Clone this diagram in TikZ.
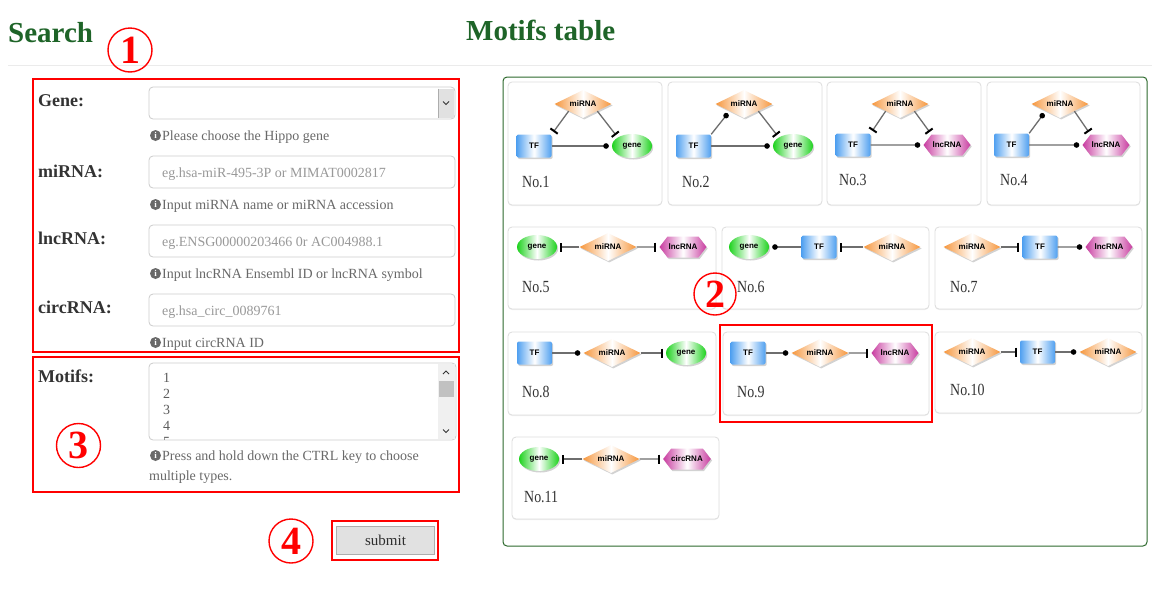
\documentclass[tikz,border=0pt]{standalone}
\usepackage{fontspec}
\usepackage{graphicx}
\setmainfont{Liberation Serif}
\newfontfamily\iconfont{Liberation Sans}
\usetikzlibrary{shapes.geometric,shapes.symbols,arrows.meta,shadows}
\definecolor{headc}{RGB}{30,100,40}
\definecolor{panelc}{RGB}{45,105,45}
\definecolor{txtc}{RGB}{51,51,51}
\definecolor{hintc}{RGB}{105,105,105}
\definecolor{phc}{RGB}{153,153,153}
\definecolor{fieldc}{RGB}{204,204,204}
\definecolor{cardc}{RGB}{221,221,221}
\definecolor{rulec}{RGB}{235,235,235}
\definecolor{edgec}{RGB}{110,110,110}
\definecolor{orgc}{RGB}{246,150,60}
\definecolor{bluec}{RGB}{80,160,240}
\definecolor{greenc}{RGB}{30,210,30}
\definecolor{magc}{RGB}{200,60,160}
\definecolor{btnc}{RGB}{225,225,225}
\definecolor{btnb}{RGB}{173,173,173}
\definecolor{trackc}{RGB}{240,240,240}
\definecolor{thumbc}{RGB}{193,193,193}
\newcommand\nolab[1]{\scalebox{0.82}[1]{#1}}
\tikzset{
  heading/.style={anchor=base west, inner sep=0, text=headc, font=\bfseries\fontsize{29}{29}\selectfont},
  lbl/.style={anchor=base west, inner sep=0, text=txtc, font=\bfseries\fontsize{18}{18}\selectfont},
  hint/.style={anchor=base west, inner sep=0, text=hintc, font=\fontsize{14}{14}\selectfont},
  ph/.style={anchor=base west, inner sep=0, text=phc, font=\fontsize{14}{14}\selectfont},
  item/.style={anchor=base west, inner sep=0, text=txtc!80, font=\fontsize{14}{14}\selectfont},
  info/.style={circle, fill=hintc, text=white, inner sep=0, minimum size=11pt, font=\bfseries\fontsize{9}{9}\selectfont},
  field/.style={draw=fieldc, line width=0.8pt, rounded corners=4pt, fill=white},
  redbox/.style={draw=red, line width=1.6pt},
  card/.style={draw=cardc, line width=0.8pt, rounded corners=4pt, fill=white,
    drop shadow={shadow xshift=0pt, shadow yshift=-1pt, opacity=0.12}},
  numlbl/.style={anchor=base west, inner sep=0, text=txtc, font=\fontsize{17}{17}\selectfont},
  circnum/.style={circle, draw=red, line width=1.4pt, minimum size=44pt, inner sep=0,
    text=red, font=\bfseries\fontsize{40}{40}\selectfont},
  icon/.style={inner sep=0, font=\iconfont\bfseries\fontsize{8}{8}\selectfont,
    drop shadow={shadow xshift=1.2pt, shadow yshift=-1.5pt, opacity=0.35}},
  mir/.style={icon, diamond, minimum width=57pt, minimum height=28pt, aspect=2,
    left color=orgc, right color=orgc, middle color=white},
  tfbox/.style={icon, rectangle, rounded corners=2pt, minimum width=35pt, minimum height=23pt,
    left color=bluec, right color=bluec, middle color=white},
  genee/.style={icon, ellipse, minimum width=40pt, minimum height=24pt,
    left color=greenc, right color=greenc, middle color=white},
  lnc/.style={icon, signal, signal to=west and east, signal pointer angle=105,
    minimum width=47pt, minimum height=21pt,
    left color=magc, right color=magc, middle color=white},
  inh/.style={draw=edgec, line width=1.3pt, shorten >=3pt,
    -{Bar[width=9pt, line width=2pt, color=black]}},
  act/.style={draw=edgec, line width=1.3pt, shorten >=3pt,
    -{Circle[length=5.5pt, color=black]}},
  chev/.style={draw=txtc, line width=0.8pt}
}
\begin{document}
\begin{tikzpicture}[x=1pt,y=-1pt]
\useasboundingbox (0,0) rectangle (1165,611);
\fill[white] (0,0) rectangle (1165,611);

% headings and rule
\draw[rulec, line width=1pt] (8,65) -- (1152,65);
\node[heading] (hsearch) at (8,42) {Search};
\node[heading] (hmotifs) at (466,40) {Motifs table};

% ---------------- search form ----------------
\draw[redbox] (33,79) rectangle (459,352);
\draw[redbox] (33,357) rectangle (459,492);

% Gene
\node[lbl] (lgene) at (38,106) {Gene:};
\draw[field] (149,87) rectangle (455,119);
\fill[btnc] (438,88.5) rectangle (454,117.5);
\draw[btnb, line width=0.6pt] (438,88.5) -- (438,117.5);
\draw[chev] (443,101.5) -- (446,104.5) -- (449,101.5);
\node[info] (igene) at (155.5,135.5) {i};
\node[hint] (hgene) at (162,140) {Please choose the Hippo gene};

% miRNA
\node[lbl] (lmir) at (38,177) {miRNA:};
\draw[field] (149,156) rectangle (455,188);
\node[ph] (pmir) at (162,177) {eg.hsa-miR-495-3P or MIMAT0002817};
\node[info] (imir) at (155.5,204.5) {i};
\node[hint] (hmir) at (162,209) {Input miRNA name or miRNA accession};

% lncRNA
\node[lbl] (llnc) at (38,244) {lncRNA:};
\draw[field] (149,225) rectangle (455,257);
\node[ph] (plnc) at (162,246) {eg.ENSG00000203466 0r AC004988.1};
\node[info] (ilnc) at (155.5,273.5) {i};
\node[hint] (hlnc) at (162,278) {Input lncRNA Ensembl ID or lncRNA symbol};

% circRNA
\node[lbl] (lcirc) at (38,313) {circRNA:};
\draw[field] (149,294) rectangle (455,326);
\node[ph] (pcirc) at (162,315) {eg.hsa\_circ\_0089761};
\node[info] (icirc) at (155.5,342.5) {i};
\node[hint] (hcirc) at (162,347) {Input circRNA ID};

% Motifs
\node[lbl] (lmot) at (38,382) {Motifs:};
\draw[field] (149,363) rectangle (456,440);
\begin{scope}
  \clip (150,364) rectangle (438,439);
  \node[item] (m1) at (163,382) {1};
  \node[item] (m2) at (163,398) {2};
  \node[item] (m3) at (163,414) {3};
  \node[item] (m4) at (163,430) {4};
  \node[item] (m5) at (163,446.5) {5};
\end{scope}
\fill[trackc] (438,364) rectangle (455,439);
\fill[thumbc] (439,381) rectangle (454,397);
\draw[chev] (443,374) -- (446,371) -- (449,374);
\draw[chev] (443,429.5) -- (446,432.5) -- (449,429.5);
\node[info] (imot) at (155.5,455.5) {i};
\node[hint] (hmot1) at (162,460) {Press and hold down the CTRL key to choose};
\node[hint] (hmot2) at (149,480) {multiple types.};

% submit
\draw[redbox] (332,521) rectangle (438,560);
\draw[btnb, fill=btnc, line width=0.8pt] (336,526) rectangle (434,554);
\node[anchor=base, inner sep=0, text=txtc!90!black, font=\fontsize{15}{15}\selectfont] (bsub) at (385.5,545) {submit};

% ---------------- motifs panel ----------------
\draw[panelc, line width=1pt, rounded corners=4pt] (503,77) rectangle (1147,546);

% cards
\draw[card] (508,82) rectangle (662,205);
\draw[card] (668,82) rectangle (822,205);
\draw[card] (827,82) rectangle (981,205);
\draw[card] (987,82) rectangle (1140,205);
\draw[card] (508,227) rectangle (716,309);
\draw[card] (722,227) rectangle (929,309);
\draw[card] (935,227) rectangle (1142,309);
\draw[card] (508,332) rectangle (716,415);
\draw[card] (723,332) rectangle (929,415);
\draw[card] (935,332) rectangle (1142,413);
\draw[card] (512,437) rectangle (719,519);
\draw[redbox] (720,325) rectangle (932,422);

% No.1
\node[tfbox] (TF1) at (534,146) {TF};
\node[mir] (MI1) at (583,104) {miRNA};
\node[genee] (G1) at (632,146) {gene};
\draw[inh] (MI1.south west) -- (TF1.north east);
\draw[inh] (MI1.south east) -- (G1.north west);
\draw[act] (TF1) -- (G1);
\node[numlbl] (n1) at (522,187) {\nolab{No.1}};

% No.2
\node[tfbox] (TF2) at (693.5,146) {TF};
\node[mir] (MI2) at (744,104) {miRNA};
\node[genee] (G2) at (793,146) {gene};
\draw[act] (TF2.north east) -- (MI2.south west);
\draw[inh] (MI2.south east) -- (G2.north west);
\draw[act] (TF2) -- (G2);
\node[numlbl] (n2) at (682,187) {\nolab{No.2}};

% No.3
\node[tfbox] (TF3) at (853,145) {TF};
\node[mir] (MI3) at (900,104) {miRNA};
\node[lnc] (L3) at (947,145) {lncRNA};
\draw[inh] (MI3.south west) -- (TF3.north east);
\draw[inh] (MI3.south east) -- (L3.north west);
\draw[act] (TF3) -- (L3);
\node[numlbl] (n3) at (839,185) {\nolab{No.3}};

% No.4
\node[tfbox] (TF4) at (1011.5,145) {TF};
\node[mir] (MI4) at (1060,104) {miRNA};
\node[lnc] (L4) at (1106,145) {lncRNA};
\draw[act] (TF4.north east) -- (MI4.south west);
\draw[inh] (MI4.south east) -- (L4.north west);
\draw[act] (TF4) -- (L4);
\node[numlbl] (n4) at (1000,185) {\nolab{No.4}};

% No.5
\node[genee] (G5) at (537,247) {gene};
\node[mir] (MI5) at (608,247) {miRNA};
\node[lnc] (L5) at (683,247) {lncRNA};
\draw[inh] (MI5) -- (G5);
\draw[inh] (MI5) -- (L5);
\node[numlbl] (n5) at (522,292) {\nolab{No.5}};

% No.6
\node[genee] (G6) at (749,247) {gene};
\node[tfbox] (TF6) at (819,247) {TF};
\node[mir] (MI6) at (892,247) {miRNA};
\draw[act] (TF6) -- (G6);
\draw[inh] (MI6) -- (TF6);
\node[numlbl] (n6) at (737,292) {\nolab{No.6}};

% No.7
\node[mir] (MI7) at (972,247) {miRNA};
\node[tfbox] (TF7) at (1040,247) {TF};
\node[lnc] (L7) at (1109,247) {lncRNA};
\draw[inh] (MI7) -- (TF7);
\draw[act] (TF7) -- (L7);
\node[numlbl] (n7) at (950,292) {\nolab{No.7}};

% No.8
\node[tfbox] (TF8) at (534.5,353) {TF};
\node[mir] (MI8) at (612,353) {miRNA};
\node[genee] (G8) at (686,353) {gene};
\draw[act] (TF8) -- (MI8);
\draw[inh] (MI8) -- (G8);
\node[numlbl] (n8) at (522,397) {\nolab{No.8}};

% No.9
\node[tfbox] (TF9) at (748,353) {TF};
\node[mir] (MI9) at (820,353) {miRNA};
\node[lnc] (L9) at (895,353) {lncRNA};
\draw[act] (TF9) -- (MI9);
\draw[inh] (MI9) -- (L9);
\node[numlbl] (n9) at (737,397) {\nolab{No.9}};

% No.10
\node[mir] (MI10a) at (972,352) {miRNA};
\node[tfbox] (TF10) at (1037.5,352) {TF};
\node[mir] (MI10b) at (1108,352) {miRNA};
\draw[inh] (MI10a) -- (TF10);
\draw[act] (TF10) -- (MI10b);
\node[numlbl] (n10) at (950,395) {\nolab{No.10}};

% No.11
\node[genee] (G11) at (539,459) {gene};
\node[mir] (MI11) at (611,459) {miRNA};
\node[lnc] (C11) at (687,459) {circRNA};
\draw[inh] (MI11) -- (G11);
\draw[inh] (MI11) -- (C11);
\node[numlbl] (n11) at (524,502) {\nolab{No.11}};

% circled numbers
\node[circnum] (c1) at (130,50) {1};
\node[circnum, minimum size=42pt] (c2) at (715,294) {2};
\node[circnum] (c3) at (78.5,445.5) {3};
\node[circnum] (c4) at (291,541) {4};
\end{tikzpicture}
\end{document}
